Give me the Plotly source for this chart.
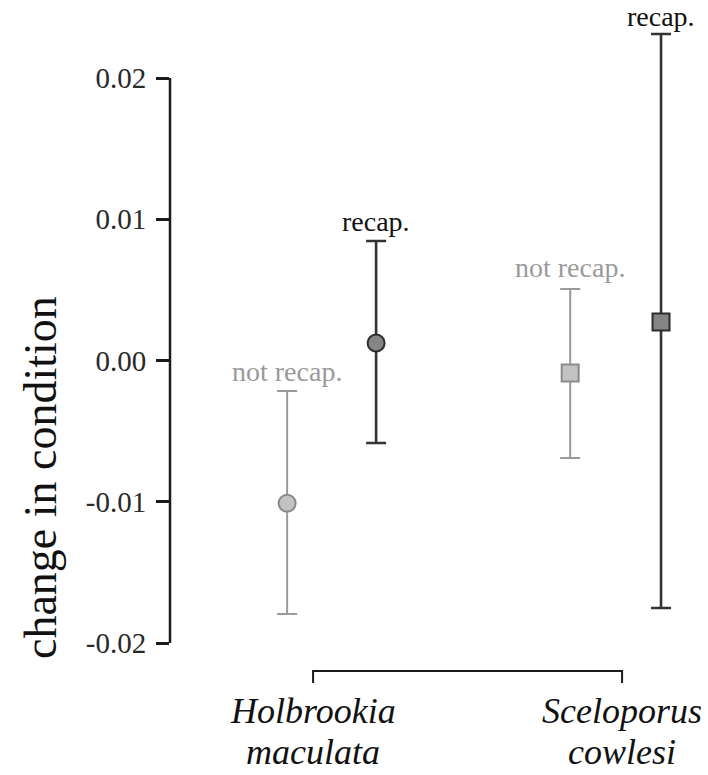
import plotly.graph_objects as go

# Species groups (x = 1, 2) and the two capture classes within each
species_top = ["Holbrookia", "Sceloporus"]
species_bottom = ["maculata", "cowlesi"]
species_x = [1, 2]

# change in body condition: mean with lower/upper interval bounds
not_recap_mean = [-0.0101, -0.00088]
not_recap_low = [-0.01795, -0.0069]
not_recap_high = [-0.00216, 0.00506]

recap_mean = [0.00124, 0.00273]
recap_low = [-0.00584, -0.01752]
recap_high = [0.00846, 0.02311]

# horizontal offsets of each class within a species group
not_recap_dx = [-0.084, -0.168]
recap_dx = [0.204, 0.126]

yticks = [-0.02, -0.01, 0.0, 0.01, 0.02]
ytick_text = ["-0.02", "-0.01", "0.00", "0.01", "0.02"]

SERIF = "Liberation Serif, Times New Roman, serif"
W, H = 708, 775
L_MARGIN = 170
Y_RANGE = [-0.029345, 0.025522]
X_RANGE = [0.537, 2.278]


def px_to_y(py):
    """Convert a vertical pixel offset from the top into y data units."""
    return Y_RANGE[1] - py / H * (Y_RANGE[1] - Y_RANGE[0])


fig = go.Figure()

series = [
    dict(name="not recap.", mean=not_recap_mean, low=not_recap_low, high=not_recap_high,
         dx=not_recap_dx, fill="#c2c2c2", edge="#8a8a8a", bar="#9a9a9a", bw=2,
         text="#9a9a9a", label_shift=[14, 16]),
    dict(name="recap.", mean=recap_mean, low=recap_low, high=recap_high,
         dx=recap_dx, fill="#858585", edge="#2e2e2e", bar="#333333", bw=2.6,
         text="#111111", label_shift=[14, 12]),
]

for s in series:
    xs = [g + d for g, d in zip(species_x, s["dx"])]
    plus = [h - m for h, m in zip(s["high"], s["mean"])]
    minus = [m - l for m, l in zip(s["mean"], s["low"])]
    fig.add_trace(go.Scatter(
        x=xs, y=s["mean"], mode="markers", name=s["name"],
        marker=dict(symbol=["circle", "square"], size=17, color=s["fill"],
                    line=dict(color=s["edge"], width=2)),
        error_y=dict(type="data", symmetric=False, array=plus, arrayminus=minus,
                     color=s["bar"], thickness=s["bw"], width=10),
        showlegend=False, cliponaxis=False,
    ))
    for x, top, shift in zip(xs, s["high"], s["label_shift"]):
        fig.add_annotation(x=x, y=top, text=s["name"], showarrow=False,
                           xanchor="center", yanchor="bottom", yshift=shift - 12,
                           font=dict(family=SERIF, size=28, color=s["text"]))

# y axis spine restricted to the tick span
fig.add_shape(type="line", xref="paper", yref="y", x0=0, x1=0,
              y0=yticks[0], y1=yticks[-1], line=dict(color="#1a1a1a", width=2.5))

# bracket joining the two species
y_br = px_to_y(671)
y_br_end = px_to_y(683)
fig.add_shape(type="path", xref="x", yref="y",
              path=f"M {species_x[0]} {y_br_end} L {species_x[0]} {y_br} "
                   f"L {species_x[1]} {y_br} L {species_x[1]} {y_br_end}",
              line=dict(color="#1a1a1a", width=2))

for x, top, bottom in zip(species_x, species_top, species_bottom):
    fig.add_annotation(x=x, y=px_to_y(711), text=f"<i>{top}</i>", showarrow=False,
                       xanchor="center", yanchor="middle",
                       font=dict(family=SERIF, size=36, color="#111111"))
    fig.add_annotation(x=x, y=px_to_y(752), text=f"<i>{bottom}</i>", showarrow=False,
                       xanchor="center", yanchor="middle",
                       font=dict(family=SERIF, size=36, color="#111111"))

# y axis title
fig.add_annotation(xref="paper", yref="y", x=(40 - L_MARGIN) / (W - L_MARGIN),
                   y=px_to_y(478), text="change in condition", textangle=-90,
                   showarrow=False, xanchor="center", yanchor="middle",
                   font=dict(family=SERIF, size=46, color="#111111"))

fig.update_xaxes(range=X_RANGE, visible=False, showgrid=False, zeroline=False)
fig.update_yaxes(range=Y_RANGE, tickvals=yticks, ticktext=ytick_text,
                 ticks="outside", ticklen=13, tickwidth=2.5, tickcolor="#1a1a1a",
                 ticklabelstandoff=4, showline=False, showgrid=False, zeroline=False,
                 tickfont=dict(family=SERIF, size=29, color="#2a2a2a"))

fig.update_layout(width=W, height=H, margin=dict(l=L_MARGIN, r=0, t=0, b=0),
                  plot_bgcolor="white", paper_bgcolor="white")

fig.write_html("out.html")
